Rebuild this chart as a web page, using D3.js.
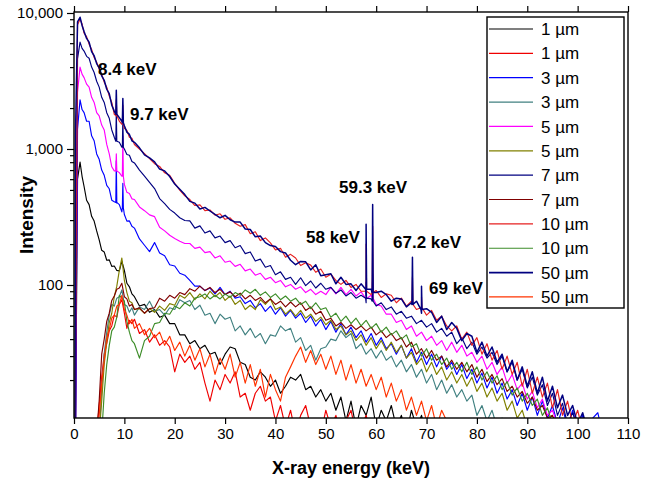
<!DOCTYPE html>
<html><head><meta charset="utf-8">
<script src="https://cdn.jsdelivr.net/npm/d3@7"></script>
<style>body{margin:0;background:#fff}svg{display:block}text{font-family:"Liberation Sans",Arial,Helvetica,sans-serif;fill:#000}</style>
</head><body><svg id="c" width="653" height="483"></svg>
<script>
// ---------- DATA ----------
const energy = [0.2,0.3,0.7,1.2,1.6,2,2.5,3,3.5,4,4.5,5,5.5,6,6.5,7,7.5,8,8.5,9,9.5,10,10.5,11,11.5,12,
13,14,15,16,17,18,19,20,21,22,23,24,25,26,27,28,29,30,31,32,33,34,35,36,37,38,39,40,41,42,
43,44,45,46,47,48,49,50,51,52,53,54,55,56,57,58,59,60,61,62,63,64,65,66,67,68,69,70,71,72,
73,74,75,76,77,78,79,80,81,82,83,84,85,86,87,88,89,90,91,92,93,94,95,96,97,98,99,100,101,102,103,104,105];

const seriesNames = ["1 µm","1 µm","3 µm","3 µm","5 µm","5 µm","7 µm","7 µm","10 µm","10 µm","50 µm","50 µm"];
const seriesColors = ["#000000","#f00000","#0000ff","#408080","#ff00ff","#808000","#000080","#800000","#e62020","#3c8c28","#000080","#ff3300"];

const black1 = [8,8,600,800,630,530,420,390,320,295,250,215,180,175,152,153,137,138,128,127,150,128,103,97,86,82,
70,72,63,66,58,60,52,52,43,43,37,39,34,36,31,32,26,31,35,34,27,26,21,20,23,21,18,20,16,18,
21,20,22,17,18,15,17,14,16,12,15,10,14,9,13,11,15,9,12,10,13,9,11,8,12,9,11,8,10,8];
const red1 = [null,null,null,null,null,null,null,null,null,null,8,13,21,31,37,46,50,60,58,72,78,62,48,55,52,56,
44,47,38,43,36,39,35,23,31,27,30,24,27,19,14,20,17,22,19,23,15,16,12,16,18,14,15,10,13,9,
12,8,11,13,9,10,8,12,9,11,8,10,12,8,9,11,8,10,8];
const blue3 = [8,8,1400,2300,1950,1850,1600,1600,1250,1150,920,840,700,640,540,510,420,410,400,390,345,330,295,296,270,262,
218,196,176,205,172,164,141,138,122,118,108,98,98,91,95,86,96,85,90,80,82,73,77,68,73,64,70,61,68,59,
65,57,62,53,59,50,56,47,54,45,52,43,49,41,46,38,44,36,41,34,37,31,36,29,34,27,32,26,31,25,
30,24,27,22,26,20.5,24,19,22.5,17.5,21,16,19,14.5,17,13,16,12,15,11,14,10.5,13,9.5,12.5,9,12,8.5,11,8.5,10.5,11.5,8];
const teal3 = [null,null,null,null,null,null,null,null,null,null,null,8,17,31,45,60,72,70,80,82,92,72,70,63,68,60,
69,66,76,64,66,60,68,66,78,74,77,66,71,60,62,52,61,56,58,46,50,43,48,41,44,37,43,42,50,46,
48,38,41,33,36,28,34,35,40,39,46,41,44,34,37,31,34,29,33,28,30,25,28,23,26,21,24,19,22,17,
20,16,18.5,15,17,14,15.5,11,13,10,12,9,10.5,8.5,9.5];
const magenta5 = [8,8,2600,4000,3550,3350,3000,2850,2400,2200,1850,1750,1500,1380,1080,920,740,690,700,670,630,550,480,470,430,425,
375,352,328,318,266,250,232,220,210,202,202,186,190,173,176,158,164,147,150,137,142,127,131,118,122,110,114,104,108,97,
101,93,97,88,93,85,90,85,96,86,96,85,93,83,89,79,84,72,70,61,61,53,55,47,50,42,45,39,42,36,
39,33,38,32,36,30,32,27,30,24,27,22,25,19,22,17,19,14.5,16.5,12.5,14.5,11,12,9.5,10];
const olive5 = [null,null,null,null,null,null,null,null,null,null,null,8,14,26,38,53,62,82,98,128,158,108,88,76,74,66,
67,62,67,63,70,65,73,71,84,80,88,78,86,79,90,82,88,77,83,72,77,66,71,66,78,72,79,66,69,61,
66,59,65,57,61,54,58,51,55,47,50,43,46,39,43,36,41,34,39,33,38,32,36,29,32,26,29,23,27,22,
25,20,23,19,22,18,21,16.5,19,15,17.5,14,16,12,14,10.5,12,9,10,8.5];
const navy7 = [8,8,4600,6100,5500,5250,4800,4650,4000,3650,3150,2850,2400,2200,1850,1680,1380,1220,1140,1120,1030,1000,910,900,810,790,
700,632,568,512,432,396,360,338,312,298,296,262,272,241,250,222,229,205,212,188,195,170,175,150,155,135,139,119,125,110,
114,101,113,99,107,95,103,93,96,87,92,83,88,80,84,74,79,70,74,66,69,61,64,57,59,52,55,49,52,45,
48,42,45,37,41,34,38,31,35,29,32,26,30,23,27,20,24,17.5,21,15.5,18.5,13,16,11,13.5,9.5,11.5,9];
const maroon7 = [null,null,null,null,null,null,null,null,null,null,8,14,31,40,54,62,77,83,93,95,103,82,79,70,72,66,
68,62,67,68,80,76,84,80,88,85,94,90,98,91,96,88,93,85,89,82,87,79,84,77,81,74,79,72,76,69,
75,69,74,65,69,61,64,55,57,50,53,48,51,47,50,46,49,43,46,41,44,39,41,35,38,31,34,29,33,28,
30,25,28,24,27,23,26,21,24,19.5,22,18.5,20.5,16.5,18,15,16.5,13.5,15,12,13,10.5,11,9];
const red10 = [8,30,8200,9000,8300,7100,6700,5900,5400,4700,4350,3850,3550,3100,2850,2450,2200,1800,1750,1600,1520,1420,1370,1220,1200,1080,
1000,925,850,780,745,668,640,560,498,452,425,384,388,352,356,326,334,304,312,284,270,278,238,246,212,222,204,181,186,160,
168,158,139,146,140,124,131,114,120,108,101,108,96,101,90,95,85,91,81,86,84,74,80,70,76,66,70,60,65,55,
59,50,46,50,40,45,36,41,31,37,28,33,24,30,22,27,18,24,16,21,15,19,12.5,17,11,14,9.5,12,8.5,10,8];
const green10 = [null,null,null,null,null,null,null,null,null,null,null,null,8,16,26,36,46,49,58,84,80,76,54,45,39,37,
29,39,42,52,53,62,61,70,67,74,70,80,82,86,79,84,79,86,81,88,84,92,87,93,84,89,81,86,78,83,
76,80,72,76,67,74,66,68,58,62,54,59,52,57,50,55,48,52,45,49,43,46,40,43,35,37,30,34,28,31,
26,29,24,27,23,27,22,25,20,23,19,21.5,17,19.5,15.5,17.5,14,16,13,14.5,11,12.5,9.5,10.5,8.5];
const navy50 = [8,1300,8600,9300,8100,7300,6500,6100,5200,4850,4250,3950,3450,3200,2750,2550,2100,1900,1800,1700,1600,1480,1330,1280,1150,1120,
1020,905,860,805,712,690,628,552,505,462,412,400,362,372,350,330,312,325,302,290,290,258,256,226,229,205,195,192,176,172,
152,141,149,148,129,141,117,119,121,102,114,101,102,91,102,83,93,88,90,85,76,80,79,69,74,76,62,67,63,53,
59,47,53,48,39,44,42,32,38,30,35,27,31,23,28,20,25,18,23,16,21,14,18,12.5,15.5,11,13,9.5,11.5,8.5];
const red50 = [null,null,null,null,null,null,null,null,null,null,8,11,19,28,41,47,57,60,70,72,84,66,60,52,56,48,
52,43,48,41,45,36,42,33,38,30,36,28,34,25,31,22,29,24,31,21,27,19,26,18,24,15,22,17,14,21,
25,30,35,27,33,26,31,24,30,22,28,20,26,19,24,18,22,17,21,15,19,14,17,12,15,11,14,10,13,9,
12,10,9];

// characteristic peaks (keV) and per-series spike heights / local baseline
const peakEnergies = [8.4, 9.7, 58, 59.3, 67.2, 69];
const peakLabels = ["8.4 keV","9.7 keV","58 keV","59.3 keV","67.2 keV","69 keV"];
const peakHeights = {
  blue3:    [820, 560, null, null, null, null],
  magenta5: [920, 1250, null, 115, null, null],
  navy7:    [1900, 1700, 105, 120, null, null],
  red10:    [2300, 2100, 200, 270, 115, 82],
  navy50:   [2700, 2350, 280, 390, 160, 98]
};
const peakBases = {
  blue3:    [405, 370, null, null, null, null],
  magenta5: [690, 630, null, 80, null, null],
  navy7:    [1140, 1030, 80, 76, null, null],
  red10:    [1760, 1530, 90, 88, 72, 68],
  navy50:   [1800, 1560, 93, 88, 72, 66]
};

const xTicks = [0,10,20,30,40,50,60,70,80,90,100,110];
const yTicks = [100,1000,10000];
const yTickLabels = ["100","1,000","10,000"];
const yMinor = [20,30,40,50,60,70,80,90,200,300,400,500,600,700,800,900,2000,3000,4000,5000,6000,7000,8000,9000];

// ---------- LAYOUT ----------
const seriesList = [
  {key:"black1", v:black1}, {key:"red1", v:red1}, {key:"blue3", v:blue3}, {key:"teal3", v:teal3},
  {key:"magenta5", v:magenta5}, {key:"olive5", v:olive5}, {key:"navy7", v:navy7}, {key:"maroon7", v:maroon7},
  {key:"red10", v:red10}, {key:"green10", v:green10}, {key:"navy50", v:navy50}, {key:"red50", v:red50}
];
const L = 74, R = 628, T = 12, B = 418;
const svg = d3.select("#c");
const x = d3.scaleLinear().domain([0,110]).range([L,R]);
const y = d3.scaleLog().domain([10.52,10170]).range([B,T]);

svg.append("defs").append("clipPath").attr("id","clip")
  .append("rect").attr("x",L).attr("y",T).attr("width",R-L).attr("height",B-T);

const line = d3.line().x(d=>x(d.e)).y(d=>y(d.v));
const plot = svg.append("g").attr("clip-path","url(#clip)");
seriesList.forEach((s,i)=>{
  const pts = [];
  s.v.forEach((v,j)=>{ if(v!=null) pts.push({e:energy[j], v}); });
  const ph = peakHeights[s.key], pb = peakBases[s.key];
  if(ph){
    peakEnergies.forEach((pe,k)=>{
      if(ph[k]!=null){
        pts.push({e:pe-0.1, v:pb[k]}, {e:pe, v:ph[k]}, {e:pe+0.1, v:pb[k]});
      }
    });
  }
  pts.sort((a,b)=>a.e-b.e);
  plot.append("path").datum(pts)
    .attr("fill","none").attr("stroke",seriesColors[i])
    .attr("stroke-width", s.key==="navy50" ? 1.5 : 1.15)
    .attr("stroke-linejoin","round")
    .attr("d",line);
});

// axes
const ax = svg.append("g");
ax.append("g").attr("transform",`translate(0,${B})`)
  .call(d3.axisBottom(x).tickValues(xTicks).tickSize(6).tickPadding(4).tickFormat(d3.format("d")))
  .call(g=>{g.select(".domain").remove(); g.selectAll("text").attr("font-size",15).attr("font-family","Liberation Sans, Arial, sans-serif");});
ax.append("g").attr("transform",`translate(0,${T})`)
  .call(d3.axisTop(x).tickValues(xTicks).tickSize(6).tickFormat(""))
  .call(g=>g.select(".domain").remove());
ax.append("g").attr("transform",`translate(${L},0)`)
  .call(d3.axisLeft(y).tickValues(yTicks).tickSize(7).tickPadding(4).tickFormat((d,i)=>yTickLabels[i]))
  .call(g=>{g.select(".domain").remove(); g.selectAll("text").attr("font-size",15).attr("font-family","Liberation Sans, Arial, sans-serif");});
ax.append("g").attr("transform",`translate(${L},0)`)
  .call(d3.axisLeft(y).tickValues(yMinor).tickSize(4).tickFormat(""))
  .call(g=>g.select(".domain").remove());
ax.selectAll("line").attr("stroke","#000").attr("stroke-width",1.2);
svg.append("rect").attr("x",L).attr("y",T).attr("width",R-L).attr("height",B-T)
  .attr("fill","none").attr("stroke","#000").attr("stroke-width",1.4);

// titles
svg.append("text").attr("x",(L+R)/2).attr("y",474).attr("text-anchor","middle")
  .attr("font-size",18).attr("font-weight","bold").text("X-ray energy (keV)");
svg.append("text").attr("transform","translate(33,215) rotate(-90)").attr("text-anchor","middle")
  .attr("font-size",19).attr("font-weight","bold").text("Intensity");

// peak annotations
const annPos = [[98,75],[130,120],[306,243],[339,193],[393,248],[429,294]];
peakLabels.forEach((t,i)=>{
  svg.append("text").attr("x",annPos[i][0]).attr("y",annPos[i][1])
    .attr("font-size",17).attr("font-weight","bold").text(t);
});

// legend
const lg = svg.append("g");
lg.append("rect").attr("x",487).attr("y",17).attr("width",137).attr("height",291)
  .attr("fill","#fff").attr("stroke","#000").attr("stroke-width",1.4);
seriesNames.forEach((n,i)=>{
  const yy = 29 + i*24.36;
  lg.append("line").attr("x1",489).attr("x2",533).attr("y1",yy).attr("y2",yy)
    .attr("stroke",seriesColors[i]).attr("stroke-width", i===10 ? 1.6 : 1.2);
  lg.append("text").attr("x",541).attr("y",yy).attr("dy","0.36em")
    .attr("font-size",17).text(n);
});
</script></body></html>
